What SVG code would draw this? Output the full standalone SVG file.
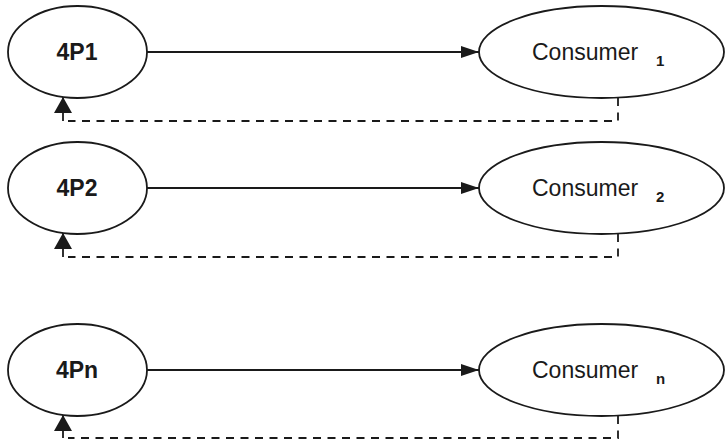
<svg xmlns="http://www.w3.org/2000/svg" width="725" height="440" viewBox="0 0 725 440">
  <style>
    .node { fill: #ffffff; stroke: #1a1a1a; stroke-width: 1.8; }
    .lbl-p { font-family: "Liberation Sans", Arial, sans-serif; font-weight: bold; font-size: 23px; fill: #1a1a1a; text-anchor: middle; }
    .lbl-c { font-family: "Liberation Sans", Arial, sans-serif; font-size: 23px; fill: #1a1a1a; }
    .sub { font-weight: bold; font-size: 15px; }
    .flow { fill: none; stroke: #1a1a1a; stroke-width: 2; }
    .back { fill: none; stroke: #1a1a1a; stroke-width: 1.8; stroke-dasharray: 8 6.5; }
    .stub { fill: none; stroke: #1a1a1a; stroke-width: 1.8; }
  </style>
  <defs>
    <marker id="head" viewBox="0 0 18 12" refX="18" refY="6" markerWidth="18" markerHeight="12" markerUnits="userSpaceOnUse" orient="auto">
      <path d="M0,0 L18,6 L0,12 Z" fill="#1a1a1a"/>
    </marker>
    <marker id="headUp" viewBox="0 0 16 18" refX="16" refY="9" markerWidth="16" markerHeight="18" markerUnits="userSpaceOnUse" orient="auto">
      <path d="M0,0 L16,9 L0,18 Z" fill="#1a1a1a"/>
    </marker>
  </defs>

  <!-- connectors -->
  <g id="connectors">
    <line class="flow" x1="147" y1="52" x2="479" y2="52" marker-end="url(#head)"/>
    <polyline class="back" points="618,98 618,121 68,121"/>
    <line class="stub" x1="63" y1="121" x2="63" y2="97" marker-end="url(#headUp)"/>

    <line class="flow" x1="147" y1="188" x2="479" y2="188" marker-end="url(#head)"/>
    <polyline class="back" points="618,234 618,257 68,257"/>
    <line class="stub" x1="63" y1="257" x2="63" y2="233" marker-end="url(#headUp)"/>

    <line class="flow" x1="147" y1="370" x2="479" y2="370" marker-end="url(#head)"/>
    <polyline class="back" points="618,416 618,438 68,438"/>
    <line class="stub" x1="63" y1="438" x2="63" y2="415" marker-end="url(#headUp)"/>
  </g>

  <!-- producer nodes -->
  <g id="p1">
    <ellipse class="node" cx="77.5" cy="52" rx="69.5" ry="46"/>
    <text class="lbl-p" x="77" y="60">4P1</text>
  </g>
  <g id="p2">
    <ellipse class="node" cx="77.5" cy="188" rx="69.5" ry="46"/>
    <text class="lbl-p" x="77" y="196">4P2</text>
  </g>
  <g id="pn">
    <ellipse class="node" cx="77.5" cy="370" rx="69.5" ry="46"/>
    <text class="lbl-p" x="77" y="378">4Pn</text>
  </g>

  <!-- consumer nodes -->
  <g id="c1">
    <ellipse class="node" cx="601.5" cy="52" rx="122.5" ry="46"/>
    <text class="lbl-c" x="532" y="60">Consumer<tspan class="sub" dx="18" dy="6">1</tspan></text>
  </g>
  <g id="c2">
    <ellipse class="node" cx="601.5" cy="188" rx="122.5" ry="46"/>
    <text class="lbl-c" x="532" y="196">Consumer<tspan class="sub" dx="18" dy="6">2</tspan></text>
  </g>
  <g id="cn">
    <ellipse class="node" cx="601.5" cy="370" rx="122.5" ry="46"/>
    <text class="lbl-c" x="532" y="378">Consumer<tspan class="sub" dx="18" dy="6">n</tspan></text>
  </g>
</svg>
